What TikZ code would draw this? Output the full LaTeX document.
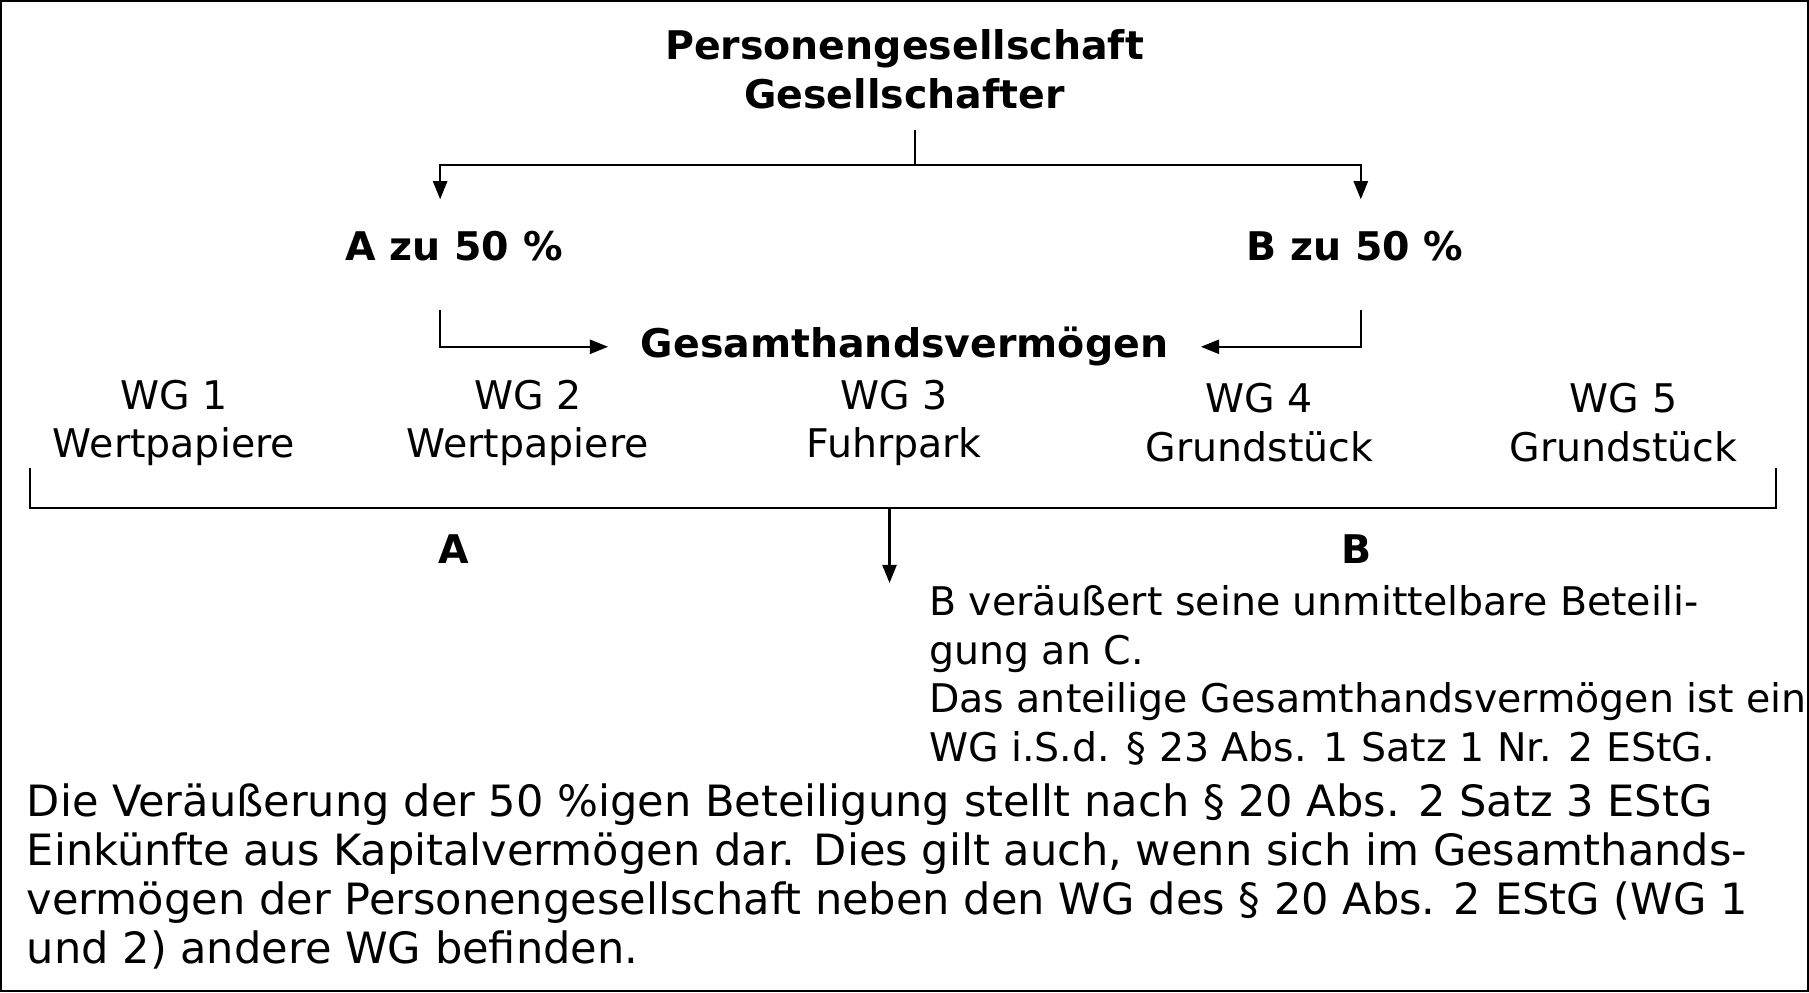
\documentclass[tikz,border=0pt]{standalone}
\usepackage{fontspec}
\setmainfont{DejaVu Sans}
\usetikzlibrary{arrows.meta}
\begin{document}
\begin{tikzpicture}[x=0.02cm,y=-0.02cm,
  txt/.style={font=\fontsize{19.5}{24}\selectfont,inner sep=0pt},
  ptxt/.style={font=\fontsize{21.3}{24.2}\selectfont,inner sep=0pt},
  btxt/.style={font=\fontsize{19.5}{24}\selectfont\bfseries,inner sep=0pt},
  ln/.style={line width=1.1pt},
  arr/.style={ln,-{Triangle[length=9pt,width=7pt]}}]
\draw[ln] (0,0) rectangle (1568,859);
\useasboundingbox (0,0) rectangle (1568,859);
\node[btxt,align=center] (title) at (784,59) {Personengesellschaft\\Gesellschafter};
\coordinate (t0) at (793,112);
\coordinate (t1) at (793,142);
\node[btxt] (A) at (393,213) {A zu 50 \%};
\node[btxt] (B) at (1175,213) {B zu 50 \%};
\draw[ln] (t0) -- (t1);
\draw[arr] (t1) -| (381,172);
\draw[arr] (t1) -| (1180,172);
\node[btxt,inner xsep=16pt] (G) at (784,300) {Gesamthandsvermögen};
\draw[arr] (381,268) |- (G.west);
\draw[arr] (1180,268) |- (G.east);
\foreach \i/\x/\w in {1/150/Wertpapiere,2/457/Wertpapiere,3/775/Fuhrpark,4/1092/Grundstück,5/1408/Grundstück}
  \node[txt,align=center] (wg\i) at (\x,366) {WG \i\\\w};
\draw[ln] (25,405) -- (25,440) -- (1540,440) -- (1540,405);
\coordinate (m) at (771,440);
\node[btxt] (a) at (393,476) {A};
\node[btxt] (b) at (1176,476) {B};
\node[txt,align=left,anchor=north west] (r) at (805,507) {B veräußert seine unmittelbare Beteili-\\gung an C.\\Das anteilige Gesamthandsvermögen ist ein\\WG i.S.d. § 23 Abs. 1 Satz 1 Nr. 2 EStG.};
\draw[arr] (m) -- (771,505);
\node[ptxt,align=left,anchor=north west] (p) at (22,679) {Die Veräußerung der 50 \%igen Beteiligung stellt nach § 20 Abs. 2 Satz 3 EStG\\Einkünfte aus Kapitalvermögen dar. Dies gilt auch, wenn sich im Gesamthands-\\vermögen der Personengesellschaft neben den WG des § 20 Abs. 2 EStG (WG 1\\und 2) andere WG befinden.};
\end{tikzpicture}
\end{document}
